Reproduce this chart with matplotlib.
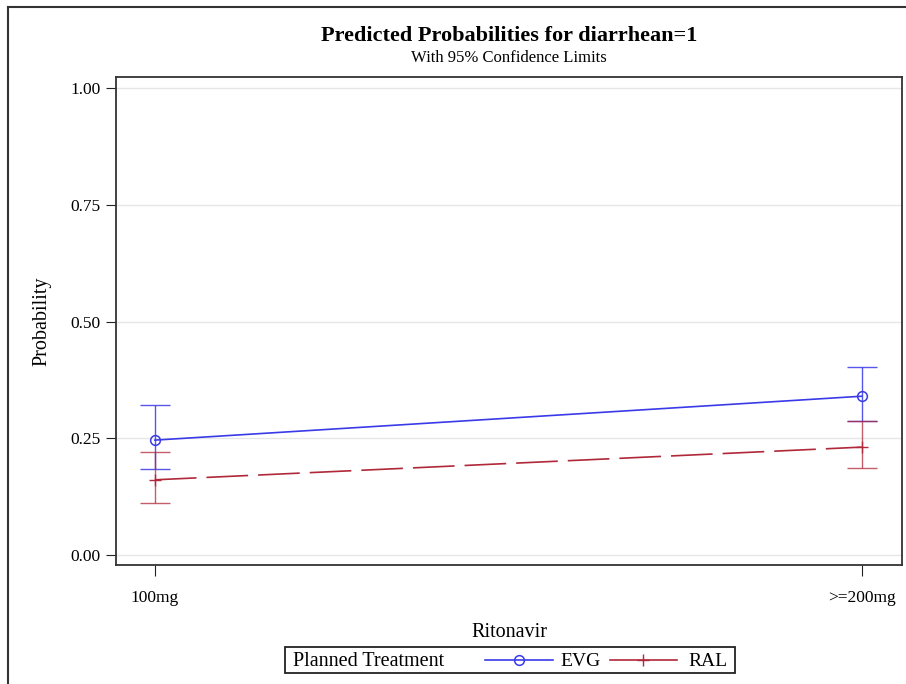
import matplotlib
matplotlib.use("Agg")
import matplotlib.pyplot as plt
from matplotlib.lines import Line2D
from matplotlib.patches import Rectangle

plt.rcParams['font.family'] = ['Liberation Serif', 'DejaVu Serif']

# data
doses = ['100mg', '>=200mg']
evg_p = [0.246, 0.340]
evg_lo = [0.184, 0.287]
evg_hi = [0.321, 0.403]
ral_p = [0.161, 0.231]
ral_lo = [0.111, 0.186]
ral_hi = [0.221, 0.287]
yticks = [0.0, 0.25, 0.5, 0.75, 1.0]

W, H = 906, 684
blue = '#3A3AE8'
red = '#B0283A'

fig = plt.figure(figsize=(W/100, H/100), dpi=100)

# outer frame (left and top visible, rest cut off)
fig.add_artist(Line2D([8/W, 8/W], [0, 1-7/H], transform=fig.transFigure, color='#333333', lw=1.5))
fig.add_artist(Line2D([8/W, 1], [1-7/H, 1-7/H], transform=fig.transFigure, color='#333333', lw=1.5))

#---------------------------------------------
ax = fig.add_axes([116/W, 1-565/H, (902-116)/W, (565-77)/H])
x = list(range(len(doses)))

ax.errorbar(x, evg_p, yerr=[[p-l for p, l in zip(evg_p, evg_lo)], [h-p for p, h in zip(evg_p, evg_hi)]],
            fmt='none', ecolor=blue, elinewidth=1.0, capsize=11, capthick=1.0, alpha=0.85, zorder=3)
ax.errorbar(x, ral_p, yerr=[[p-l for p, l in zip(ral_p, ral_lo)], [h-p for p, h in zip(ral_p, ral_hi)]],
            fmt='none', ecolor=red, elinewidth=1.0, capsize=11, capthick=1.0, alpha=0.75, zorder=3)
ax.plot(x, evg_p, color=blue, lw=1.2, marker='o', mfc='none', mec=blue, ms=7, mew=1.1, zorder=4)
ax.plot(x, ral_p, color=red, lw=1.2, linestyle=(0, (25, 6)), marker='+', mec=red, ms=9, mew=1.0, zorder=4)

ax.set_xlim(-0.055, 1.057)
ax.set_ylim(-10/467, 1+11/467)
ax.set_xticks(x)
ax.set_xticklabels(doses)
ax.set_yticks(yticks)
ax.set_yticklabels(['%.2f' % v for v in yticks])
ax.yaxis.grid(True, color='#E6E6E6', lw=1.0)
ax.set_axisbelow(True)
ax.tick_params(axis='both', direction='out', labelsize=12.5, color='#222222')
ax.tick_params(axis='y', length=7, pad=4)
ax.tick_params(axis='x', length=8, pad=10)
for s in ax.spines.values():
    s.set_color('#333333')
    s.set_linewidth(1.3)

ax.set_xlabel('Ritonavir', fontsize=14.5, labelpad=12)
ax.set_ylabel('Probability', fontsize=14.5, labelpad=14)

fig.text(509/W, 1-36/H, 'Predicted Probabilities for diarrhean=1', ha='center', va='center',
         fontsize=16, fontweight='bold')
fig.text(509/W, 1-58/H, 'With 95% Confidence Limits', ha='center', va='center', fontsize=12)

#---------------------------------------------
# legend box drawn in pixel coords
lg = fig.add_axes([0, 0, 1, 1], zorder=5)
lg.set_xlim(0, W)
lg.set_ylim(H, 0)
lg.axis('off')
lg.add_patch(Rectangle((285, 647), 450, 26, fill=False, ec='#222222', lw=1.3))
lg.text(293, 666, 'Planned Treatment', va='baseline', fontsize=14.5)
lg.plot([485, 553], [660, 660], color=blue, lw=1.2)
lg.plot([519], [660], marker='o', mfc='none', mec=blue, ms=7, mew=1.1)
lg.text(560, 666, 'EVG', va='baseline', fontsize=14)
lg.plot([610, 677], [660, 660], color=red, lw=1.2)
lg.plot([643], [660], marker='+', mec=red, ms=9, mew=1.0)
lg.text(688, 666, 'RAL', va='baseline', fontsize=14)

fig.savefig('out.png', dpi=100)
